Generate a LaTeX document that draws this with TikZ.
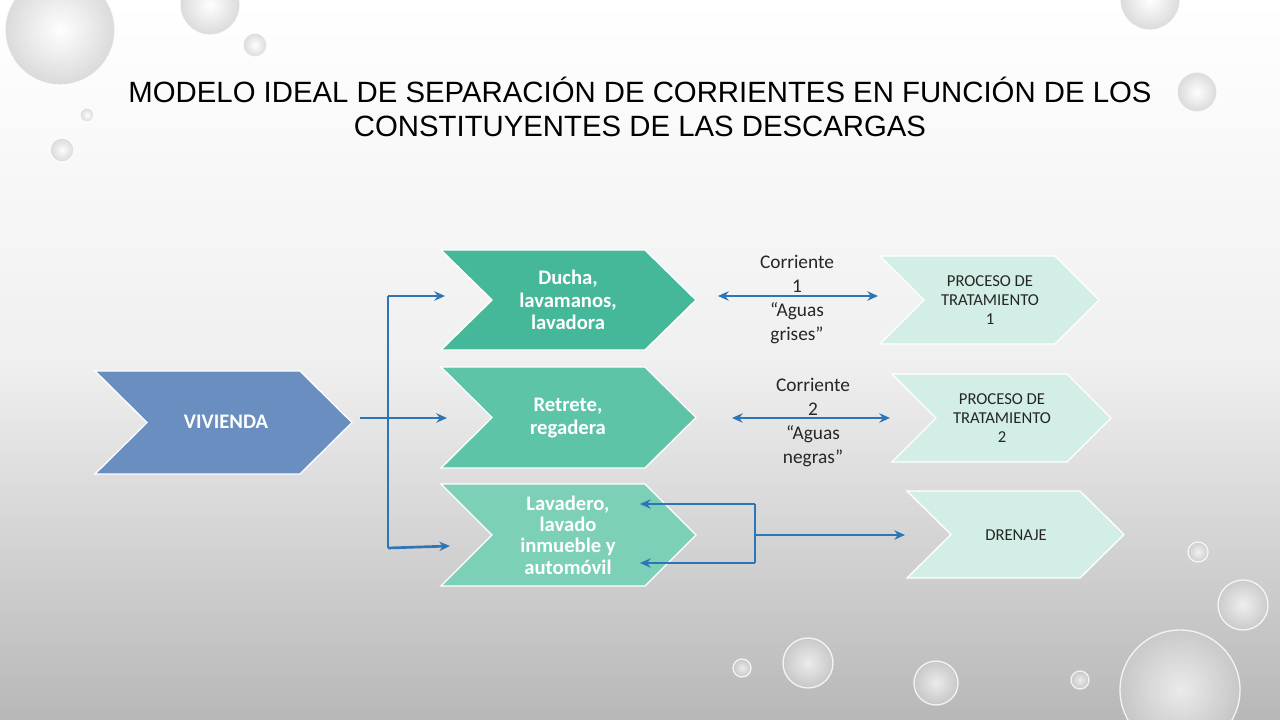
\documentclass[tikz,border=0pt]{standalone}
\usepackage{fontspec}
\setmainfont{Carlito}
\newfontfamily\titlefont{Liberation Sans}
\usetikzlibrary{arrows.meta}
\definecolor{cA}{HTML}{6A8EBF}
\definecolor{cB}{HTML}{45B89A}
\definecolor{cC}{HTML}{5EC4A8}
\definecolor{cD}{HTML}{7DD0B8}
\definecolor{cL}{HTML}{D3EEE6}
\definecolor{cLine}{HTML}{2E75B6}
\tikzset{
 conn/.style={draw=cLine,line width=2pt,-{Stealth[length=8pt,width=7pt]}},
 dconn/.style={draw=cLine,line width=2pt,{Stealth[length=8pt,width=7pt]}-{Stealth[length=8pt,width=7pt]}},
 plain/.style={draw=cLine,line width=2pt},
 lbl/.style={align=center,font=\bfseries\fontsize{15.5}{17}\selectfont,text=white},
 dlbl/.style={align=center,font=\fontsize{12.5}{14}\selectfont,text=black!85},
 clbl/.style={align=center,font=\fontsize{14.5}{18}\selectfont,text=black!85}
}
\newcommand{\chev}[7]{% fill, x1,y1,x2(right body),y2,depth, name
 \fill[#1,draw=white,line width=1pt] (#2,#3) -- (#4,#3) -- (#4+#6,{(#3+#5)/2}) -- (#4,#5) -- (#2,#5) -- (#2+#6,{(#3+#5)/2}) -- cycle;
 \coordinate (#7) at ({(#2+#4+#6)/2},{(#3+#5)/2});
}
\begin{document}
\begin{tikzpicture}[x=0.75pt,y=-0.75pt]
\useasboundingbox (0,0) rectangle (1280,720);
\shade[top color=white,bottom color=black!28,middle color=black!6] (0,0) rectangle (1280,720);
% bubbles
\foreach \x/\y/\r in {60/30/55,210/5/30,255/45/12,87/115/7,62/150/12,1197/92/20,1150/0/30,1198/552/10,1243/605/25,1180/690/60,808/663/25,936/683/22,742/668/9,1080/680/9}
 {\shade[inner color=white,outer color=black!20,opacity=0.7] (\x,\y) circle (\r);
  \draw[white,line width=1pt,opacity=0.8] (\x,\y) circle (\r);}
\node[font=\titlefont\fontsize{22}{26}\selectfont,align=center] (title) at (640,107) {MODELO IDEAL DE SEPARACIÓN DE CORRIENTES EN FUNCIÓN DE LOS\\CONSTITUYENTES DE LAS DESCARGAS};
\chev{cA}{95}{371}{300}{474}{52}{viv}
\chev{cB}{441}{250}{645}{350}{51}{duc}
\chev{cC}{441}{367}{645}{468}{51}{ret}
\chev{cD}{441}{484}{645}{586}{51}{lav}
\chev{cL}{880}{256}{1055}{344}{44}{p1}
\chev{cL}{892}{374}{1067}{462}{44}{p2}
\chev{cL}{907}{491}{1080}{578}{44}{dre}
\node[lbl] (tviv) at (226,422) {VIVIENDA};
\node[lbl] (tduc) at (568,300) {Ducha,\\lavamanos,\\lavadora};
\node[lbl] (tret) at (568,418) {Retrete,\\regadera};
\node[lbl,font=\bfseries\fontsize{15.5}{16}\selectfont] (tlav) at (568,535) {Lavadero,\\lavado\\inmueble y\\automóvil};
\node[dlbl] (tp1) at (990,300) {PROCESO DE\\TRATAMIENTO\\1};
\node[dlbl] (tp2) at (1002,418) {PROCESO DE\\TRATAMIENTO\\2};
\node[dlbl] (tdre) at (1016,535) {DRENAJE};
\node[clbl] (c1) at (797,300) {Corriente\\1\\“Aguas\\grises”};
\node[clbl] (c2) at (813,423) {Corriente\\2\\“Aguas\\negras”};
% connectors
\coordinate (a0) at (360,418); \coordinate (a1) at (388,418);
\coordinate (v1) at (388,296); \coordinate (v3) at (388,548);
\coordinate (e1) at (445,296); \coordinate (e2) at (447,418); \coordinate (e3) at (450,546);
\draw[plain] (a0) -- (a1);
\draw[plain] (v1) -- (v3);
\draw[conn] (v1) -- (e1);
\draw[conn] (a1) -- (e2);
\draw[conn] (v3) -- (e3);
\coordinate (d1a) at (718,296); \coordinate (d1b) at (878,296);
\coordinate (d2a) at (732,418); \coordinate (d2b) at (890,418);
\draw[dconn] (d1a) -- (d1b);
\draw[dconn] (d2a) -- (d2b);
\coordinate (b1) at (755,504); \coordinate (b2) at (755,563); \coordinate (bm) at (755,535);
\coordinate (l1) at (640,504); \coordinate (l2) at (640,563); \coordinate (dr) at (905,535);
\draw[conn] (b1) -- (l1);
\draw[conn] (b2) -- (l2);
\draw[plain] (b1) -- (b2);
\draw[conn] (bm) -- (dr);
\end{tikzpicture}
\end{document}
